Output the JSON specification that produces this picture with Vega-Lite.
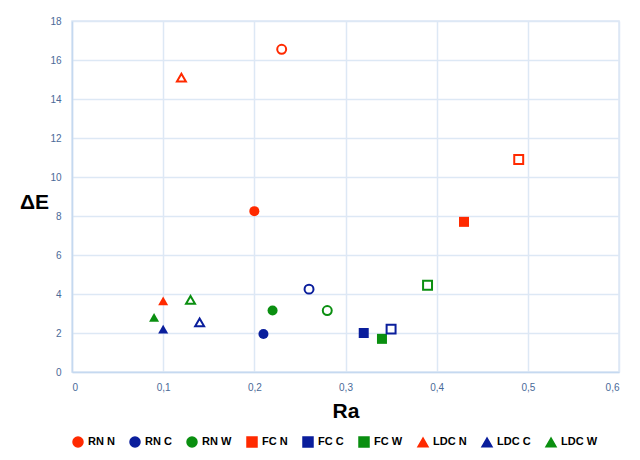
{
  "$schema": "https://vega.github.io/schema/vega-lite/v6.json",
  "width": 547,
  "height": 351,
  "autosize": {"type": "none"},
  "padding": {"left": 72, "top": 21, "right": 21, "bottom": 88},
  "background": "white",
  "config": {
    "font": "Liberation Sans",
    "view": {"stroke": "#dce8f5", "strokeWidth": 1.5},
    "axis": {
      "gridColor": "#dde8f5",
      "gridWidth": 1.5,
      "domainColor": "#c5d9f0",
      "domainWidth": 1.5,
      "ticks": false,
      "labelColor": "#4a6a98",
      "labelFontSize": 10,
      "titleFont": "Liberation Sans",
      "titleFontWeight": "bold",
      "titleFontSize": 21,
      "titleColor": "#000000"
    }
  },
  "data": {
    "values": [
      {"series": "RN N", "open": false, "Ra": 0.2, "dE": 8.25},
      {"series": "RN N", "open": true, "Ra": 0.23, "dE": 16.55},
      {"series": "RN C", "open": false, "Ra": 0.21, "dE": 1.95},
      {"series": "RN C", "open": true, "Ra": 0.26, "dE": 4.25},
      {"series": "RN W", "open": false, "Ra": 0.22, "dE": 3.15},
      {"series": "RN W", "open": true, "Ra": 0.28, "dE": 3.15},
      {"series": "FC N", "open": false, "Ra": 0.43, "dE": 7.7},
      {"series": "FC N", "open": true, "Ra": 0.49, "dE": 10.9},
      {"series": "FC C", "open": false, "Ra": 0.32, "dE": 2.0},
      {"series": "FC C", "open": true, "Ra": 0.35, "dE": 2.2},
      {"series": "FC W", "open": false, "Ra": 0.34, "dE": 1.7},
      {"series": "FC W", "open": true, "Ra": 0.39, "dE": 4.45},
      {"series": "LDC N", "open": false, "Ra": 0.1, "dE": 3.65},
      {"series": "LDC N", "open": true, "Ra": 0.12, "dE": 15.1},
      {"series": "LDC C", "open": false, "Ra": 0.1, "dE": 2.2},
      {"series": "LDC C", "open": true, "Ra": 0.14, "dE": 2.55},
      {"series": "LDC W", "open": false, "Ra": 0.09, "dE": 2.8},
      {"series": "LDC W", "open": true, "Ra": 0.13, "dE": 3.7}
    ]
  },
  "encoding": {
    "x": {
      "field": "Ra", "type": "quantitative",
      "scale": {"domain": [0, 0.6], "nice": false},
      "axis": {"values": [0, 0.1, 0.2, 0.3, 0.4, 0.5, 0.6], "labelExpr": "replace(format(datum.value, ''), '.', ',')", "labelPadding": 10, "title": "Ra", "titleY": 39, "titleBaseline": "middle"}
    },
    "y": {
      "field": "dE", "type": "quantitative",
      "scale": {"domain": [0, 18], "nice": false},
      "axis": {"values": [0, 2, 4, 6, 8, 10, 12, 14, 16, 18], "labelPadding": 11, "title": "ΔE", "titleAngle": 0, "titleX": -38, "titleY": 181, "titleAlign": "center", "titleBaseline": "middle"}
    }
  },
  "layer": [
    {
      "transform": [{"filter": "!datum.open"}],
      "mark": {"type": "point", "filled": true, "opacity": 1, "size": 100},
      "encoding": {
        "color": {
          "field": "series", "type": "nominal",
          "scale": {
            "domain": ["RN N", "RN C", "RN W", "FC N", "FC C", "FC W", "LDC N", "LDC C", "LDC W"],
            "range": ["#ff2a00", "#0a1e9c", "#0a8f10", "#ff2a00", "#0a1e9c", "#0a8f10", "#ff2a00", "#0a1e9c", "#0a8f10"]
          },
          "legend": {
            "title": null, "orient": "none", "direction": "horizontal",
            "legendX": 0, "legendY": 415, "padding": 0,
            "labelFontWeight": "bold", "labelFontSize": 11, "labelColor": "#000000",
            "symbolSize": 100, "columnPadding": 12, "labelOffset": 4
          }
        },
        "shape": {
          "field": "series", "type": "nominal",
          "scale": {
            "domain": ["RN N", "RN C", "RN W", "FC N", "FC C", "FC W", "LDC N", "LDC C", "LDC W"],
            "range": ["circle", "circle", "circle", "square", "square", "square", "triangle-up", "triangle-up", "triangle-up"]
          }
        }
      }
    },
    {
      "transform": [{"filter": "datum.open"}],
      "mark": {"type": "point", "filled": false, "fill": "white", "fillOpacity": 1, "opacity": 1, "strokeWidth": 2, "size": 80},
      "encoding": {
        "stroke": {
          "field": "series", "type": "nominal",
          "scale": {
            "domain": ["RN N", "RN C", "RN W", "FC N", "FC C", "FC W", "LDC N", "LDC C", "LDC W"],
            "range": ["#ff2a00", "#0a1e9c", "#0a8f10", "#ff2a00", "#0a1e9c", "#0a8f10", "#ff2a00", "#0a1e9c", "#0a8f10"]
          },
          "legend": null
        },
        "shape": {"field": "series", "type": "nominal"}
      }
    }
  ]
}
